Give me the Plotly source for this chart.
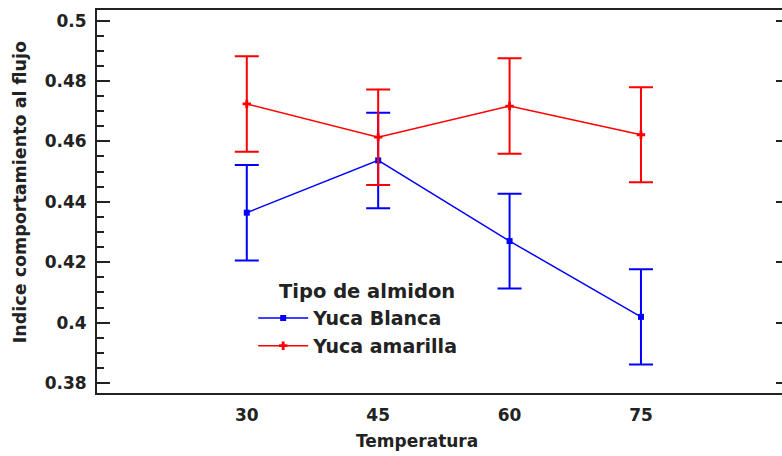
import plotly.graph_objects as go

temperatura = [30, 45, 60, 75]
yuca_blanca = [0.4364, 0.4537, 0.4270, 0.4019]
yuca_blanca_err = [0.0158, 0.0158, 0.0157, 0.0158]
yuca_amarilla = [0.4724, 0.4614, 0.4717, 0.4622]
yuca_amarilla_err = [0.0158, 0.0158, 0.0158, 0.0157]
y_tickvals = [0.38, 0.40, 0.42, 0.44, 0.46, 0.48, 0.50]
y_ticktext = ["0.38", "0.4", "0.42", "0.44", "0.46", "0.48", "0.5"]
x_ticktext = ["30", "45", "60", "75"]

FONT = "DejaVu Sans"
fig = go.Figure()
fig.add_trace(go.Scatter(
    x=temperatura, y=yuca_blanca, name="Yuca Blanca", mode="lines+markers",
    line=dict(color="#0000FF", width=1.5),
    marker=dict(symbol="square", size=6, color="#0000FF"),
    error_y=dict(type="data", array=yuca_blanca_err, visible=True,
                 color="#0000FF", thickness=2, width=12),
))
fig.add_trace(go.Scatter(
    x=temperatura, y=yuca_amarilla, name="Yuca amarilla", mode="lines+markers",
    line=dict(color="#FF0000", width=1.5),
    marker=dict(symbol="cross", size=7, color="#FF0000"),
    error_y=dict(type="data", array=yuca_amarilla_err, visible=True,
                 color="#FF0000", thickness=2, width=12),
))
# dummy trace to activate the right-side tick axis
fig.add_trace(go.Scatter(x=[None], y=[None], yaxis="y2", showlegend=False,
                         hoverinfo="skip"))

yrange = [0.3767, 0.5035]
fig.update_layout(
    width=782, height=456,
    margin=dict(l=97, r=0, t=10, b=63),
    paper_bgcolor="white", plot_bgcolor="white",
    font=dict(family=FONT, size=17, color="#222222", weight="bold"),
    xaxis=dict(
        range=[12.9, 91.1], tickvals=temperatura, ticktext=x_ticktext,
        ticks="", showgrid=False, zeroline=False,
        showline=True, linecolor="#222222", linewidth=2, mirror=True,
        ticklabelstandoff=6,
        tickfont=dict(family=FONT, size=17, weight="bold", color="#222222"),
    ),
    yaxis=dict(
        range=yrange, tickvals=y_tickvals, ticktext=y_ticktext,
        ticks="inside", ticklen=13, tickwidth=2, tickcolor="#222222",
        minor=dict(dtick=0.005, tick0=0.38, ticks="inside", ticklen=7,
                   tickwidth=2, tickcolor="#222222", showgrid=False),
        showgrid=False, zeroline=False,
        showline=True, linecolor="#222222", linewidth=2,
        ticklabelstandoff=5,
        tickfont=dict(family=FONT, size=17, weight="bold", color="#222222"),
    ),
    yaxis2=dict(
        range=yrange, overlaying="y", side="right", tickvals=y_tickvals,
        showticklabels=False, ticks="inside", ticklen=6, tickwidth=2,
        tickcolor="#222222", showgrid=False, zeroline=False, showline=False,
    ),
    showlegend=True,
    legend=dict(
        x=0.228, y=0.245, xanchor="left", yanchor="top",
        bgcolor="rgba(0,0,0,0)", itemwidth=50,
        font=dict(family=FONT, size=19, weight="bold", color="#222222"),
        tracegroupgap=0,
    ),
    annotations=[
        dict(text="Indice comportamiento al flujo", xref="paper", yref="paper",
             x=-0.112, y=0.525, xanchor="center", yanchor="middle",
             textangle=-90, showarrow=False,
             font=dict(family=FONT, size=17.5, weight="bold", color="#222222")),
        dict(text="Temperatura", xref="paper", yref="paper",
             x=0.467, y=-0.125, xanchor="center", yanchor="middle",
             showarrow=False,
             font=dict(family=FONT, size=17, weight="bold", color="#222222")),
        dict(text="Tipo de almidon", xref="paper", yref="paper",
             x=0.263, y=0.266, xanchor="left", yanchor="middle",
             showarrow=False,
             font=dict(family=FONT, size=19.5, weight="bold", color="#222222")),
    ],
)

fig.write_html("out.html")
